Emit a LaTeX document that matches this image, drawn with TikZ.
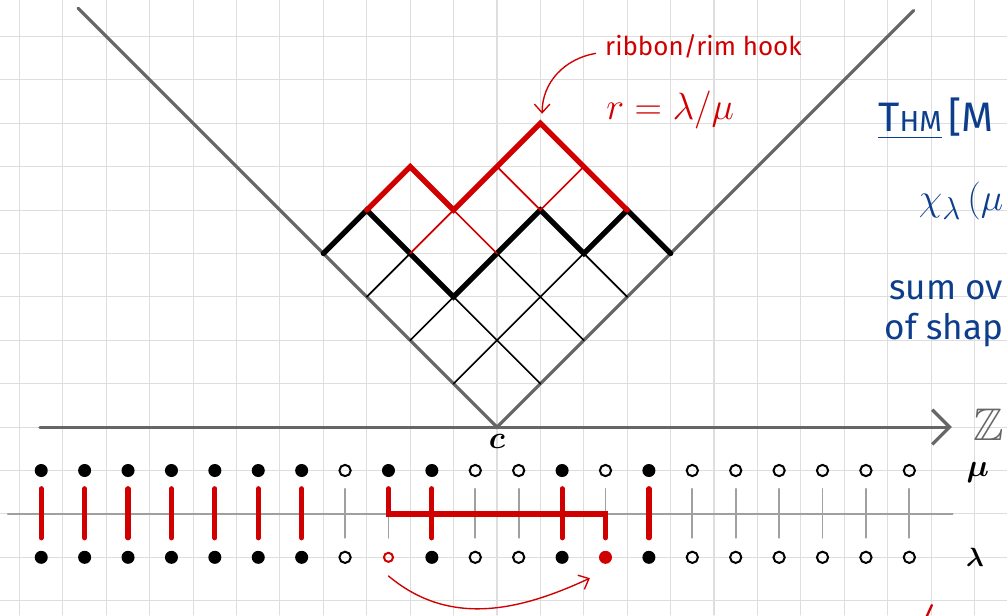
\documentclass[tikz,border=0pt]{standalone}
\usepackage{amsmath}
\usepackage{amssymb}
\usepackage{fontspec}
\setmainfont{Fira Sans}
\usetikzlibrary{arrows.meta}
\definecolor{inkred}{RGB}{208,0,0}
\definecolor{inkblue}{RGB}{12,62,140}
\definecolor{linegray}{RGB}{102,102,102}
\definecolor{tickgray}{RGB}{160,160,160}
\definecolor{papergrid}{RGB}{222,222,222}

\begin{document}
\begin{tikzpicture}[>={Straight Barb[length=2mm,width=3.6mm]}, line cap=round,
  fdot/.style={circle,fill=black,inner sep=0pt,minimum size=3mm},
  odot/.style={circle,draw=black,line width=1.3pt,inner sep=0pt,minimum size=2.6mm},
  redtick/.style={inkred,line width=3.4pt,shorten <=4.2mm,shorten >=4.5mm},
  graytick/.style={tickgray,line width=1.2pt,shorten <=4.2mm,shorten >=4.5mm},
  cellline/.style={black,line width=1.1pt},
  rimline/.style={black,line width=3.5pt},
  hand/.style={font=\fontsize{17}{20}\selectfont}]
  \useasboundingbox (-11.45,-4.33) rectangle (11.75,9.84);
  % squared paper
  \draw[papergrid,line width=0.7pt] (-11.45,-4.33) grid (11.75,9.84);

  % the V and the axis
  \draw[linegray,line width=2.1pt] (-9.65,9.65) -- (0,0) -- (9.6,9.6);
  \draw[linegray,line width=2.1pt,-{Straight Barb[length=4mm,width=8mm]}] (-10.53,0) -- (10.48,0);
  \node[linegray,anchor=west,font=\fontsize{30}{30}\selectfont] (zz) at (10.85,0.05) {$\mathbb{Z}$};
  \node[font=\fontsize{21}{21}\selectfont] (cc) at (0,-0.33) {$\boldsymbol{c}$};

  % cells of mu
  \draw[cellline] (-1,1) -- (2,4) (-2,2) -- (-1,3) (-3,3) -- (-2,4)
                  (1,1) -- (-1,3) (2,2) -- (0,4) (3,3) -- (2,4);
  \draw[rimline] (-4,4) -- (-3,5) -- (-1,3) -- (1,5) -- (2,4) -- (3,5) -- (4,4);
  % the ribbon lambda/mu
  \draw[inkred,line width=1.1pt] (-2,4) -- (-1,5) -- (0,4) (0,6) -- (1,5) -- (2,6);
  \draw[inkred,line width=3.5pt] (-3,5) -- (-2,6) -- (-1,5) -- (1,7) -- (3,5);
  \coordinate (top) at (1,7);

  \node[inkred,hand,anchor=west] (hook) at (2.37,8.76) {ribbon/rim hook};
  \node[inkred,font=\fontsize{24}{24}\selectfont] (quot) at (3.99,7.3) {$r=\lambda/\mu$};
  \draw[inkred,line width=0.9pt,->] ([xshift=-1mm,yshift=-1.5mm]hook.west) to[out=190,in=90] ([xshift=0.4mm,yshift=2.2mm]top);

  % Maya diagrams of mu and lambda
  \draw[tickgray,line width=1.2pt] (-11.27,-2) -- (10.5,-2);
  \foreach \i in {1,2,3,4,5,6,7,9,10,13,15} \node[fdot] (mu\i) at (\i-11.5,-1) {};
  \foreach \i in {8,11,12,14,16,17,18,19,20,21} \node[odot] (mu\i) at (\i-11.5,-1) {};
  \foreach \i in {1,2,3,4,5,6,7,10,13,15} \node[fdot] (la\i) at (\i-11.5,-3) {};
  \foreach \i in {8,11,12,16,17,18,19,20,21} \node[odot] (la\i) at (\i-11.5,-3) {};
  \node[odot,draw=inkred,minimum size=2.1mm] (la9) at (-2.5,-3) {};
  \node[fdot,fill=inkred] (la14) at (2.5,-3) {};

  \foreach \i in {8,11,12,16,17,18,19,20,21} \draw[graytick] (mu\i.center) -- (la\i.center);
  \draw[graytick,shorten <=0pt] (-2.5,-2) -- (la9.center);
  \draw[graytick,shorten >=0pt] (mu14.center) -- (2.5,-2);
  \foreach \i in {1,2,3,4,5,6,7,10,13,15} \draw[redtick] (mu\i.center) -- (la\i.center);
  \draw[redtick] (mu9.center) -- (-2.5,-2) -- (2.5,-2) -- (la14.center);
  \draw[inkred,line width=0.9pt,->] ([yshift=-4.3mm]la9.center) to[out=-40,in=205] ([xshift=-3.6mm,yshift=-4.8mm]la14.center);

  \node[font=\fontsize{22}{22}\selectfont] (mulab) at (11.08,-1.04) {$\boldsymbol{\mu}$};
  \node[font=\fontsize{16}{16}\selectfont] (lalab) at (11.01,-3.0) {$\boldsymbol{\lambda}$};

  % theorem, up to the page edge
  \node[inkblue,anchor=west,font=\fontsize{27}{27}\selectfont] (thm) at (8.66,7.1) {\underline{T{\fontsize{19}{19}\selectfont HM}}\,[M};
  \node[inkblue,anchor=east,inner sep=0.5mm,font=\fontsize{32}{32}\selectfont] (chi) at (11.72,5.2) {$\chi_\lambda\,(\mu$};
  \node[inkblue,anchor=east,inner sep=0.5mm,font=\fontsize{23}{23}\selectfont] (sumov) at (11.72,3.16) {sum ov};
  \node[inkblue,anchor=east,inner sep=0.5mm,font=\fontsize{23}{23}\selectfont] (shap) at (11.72,2.24) {of shap};
  \draw[inkred,line width=1.5pt] (10.02,-4.1) -- (9.86,-4.45);
\end{tikzpicture}
\end{document}
